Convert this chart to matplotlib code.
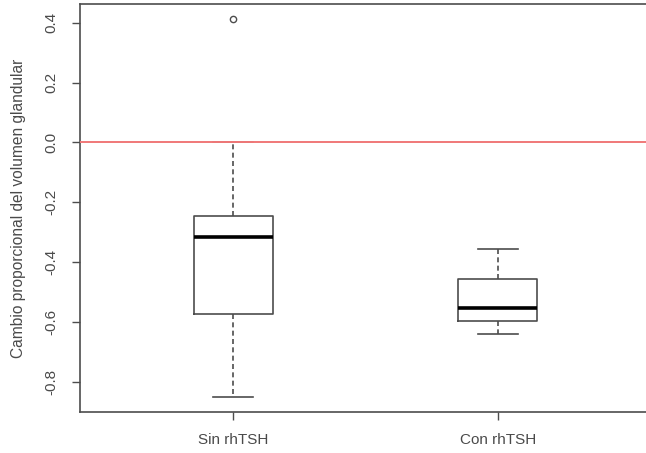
import matplotlib.pyplot as plt

plt.rcParams['font.family'] = ['Liberation Sans', 'DejaVu Sans']

groups = ['Sin rhTSH', 'Con rhTSH']
whislo = [-0.851, -0.640]
q1 = [-0.573, -0.596]
med = [-0.315, -0.553]
q3 = [-0.245, -0.456]
whishi = [0.0, -0.358]
outliers = [[0.412], []]

stats = []
for i in range(len(groups)):
    stats.append({'label': groups[i], 'whislo': whislo[i], 'q1': q1[i], 'med': med[i],
                  'q3': q3[i], 'whishi': whishi[i], 'fliers': outliers[i]})

fig = plt.figure(figsize=(6.46, 4.53), dpi=100)
ax = fig.add_axes([80/646, 41/453, 571/646, 408/453])

line_col = '#4d4d4d'
ax.bxp(stats, positions=[1, 2], widths=0.3, capwidths=0.15,
       boxprops=dict(color=line_col, linewidth=1.2),
       whiskerprops=dict(color=line_col, linewidth=1.2, linestyle=(0, (3, 2))),
       capprops=dict(color=line_col, linewidth=1.2),
       medianprops=dict(color='black', linewidth=2.6),
       flierprops=dict(marker='o', markersize=4.5, markerfacecolor='none',
                       markeredgecolor=line_col, markeredgewidth=1))

# reference line drawn on top, hides the upper cap of the first box
ax.axhline(0, color='#f07878', linewidth=1.4, zorder=5)

ax.set_xlim(0.42, 2.58)
ax.set_ylim(-0.9015, 0.4625)
ax.set_yticks([-0.8, -0.6, -0.4, -0.2, 0.0, 0.2, 0.4])
ax.set_yticklabels(['-0.8', '-0.6', '-0.4', '-0.2', '0.0', '0.2', '0.4'],
                   rotation=90, va='center')
ax.set_xticks([1, 2])
ax.set_xticklabels(groups)
ax.tick_params(axis='both', direction='out', length=5.5, width=1, color=line_col,
               labelsize=11, labelcolor='#4a4a4a')
ax.tick_params(axis='y', pad=10)
ax.tick_params(axis='x', pad=9.5)
for sp in ax.spines.values():
    sp.set_color(line_col)
    sp.set_linewidth(1.2)

ax.set_ylabel('Cambio proporcional del volumen glandular', fontsize=11.2,
              color='#4a4a4a', labelpad=13)

fig.savefig('out.png', dpi=100)
